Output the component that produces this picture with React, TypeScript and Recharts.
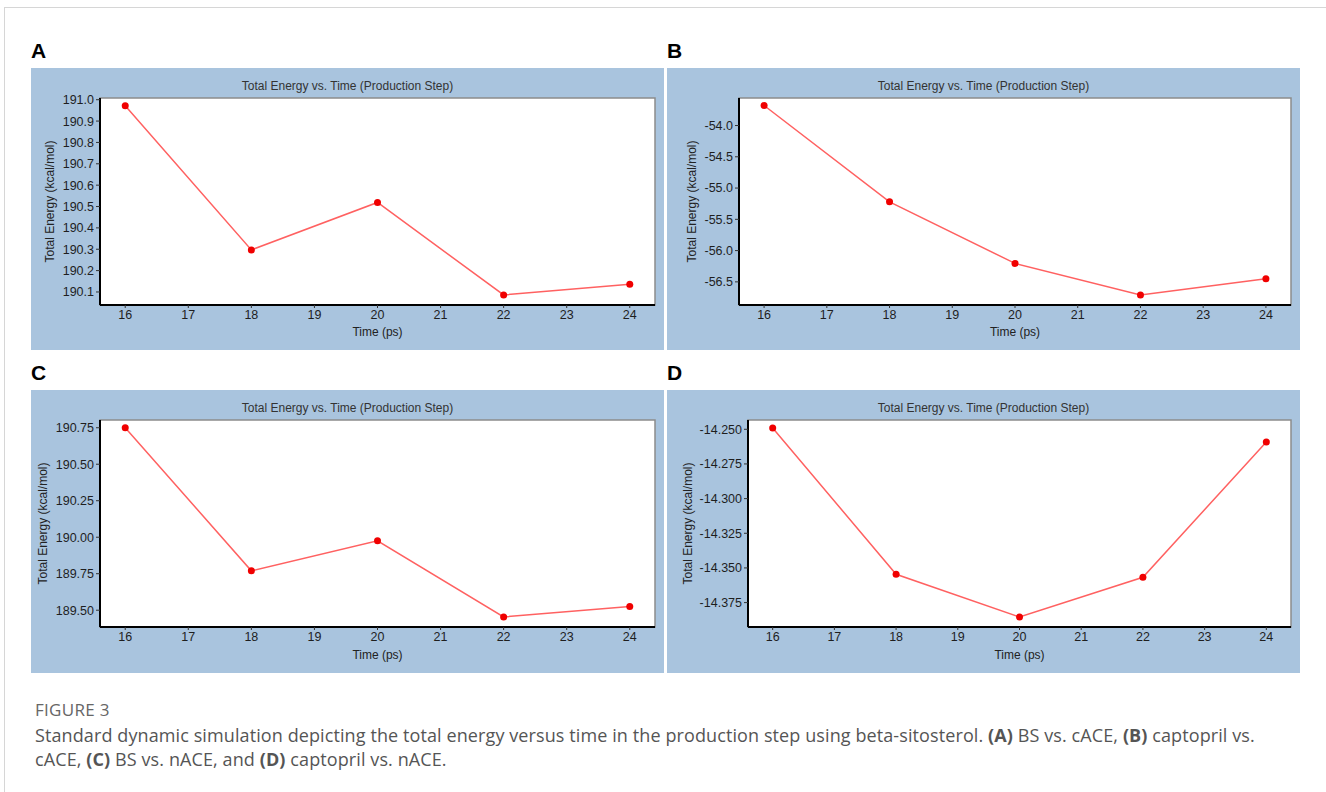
import React from 'react';
import { LineChart, Line, XAxis, YAxis, ReferenceArea } from 'recharts';

// time points (ps)
const times = [16, 18, 20, 22, 24];
const timeTicks = [16, 17, 18, 19, 20, 21, 22, 23, 24];
const timeDomain: [number, number] = [15.6, 24.4];

// total energy (kcal/mol) per panel
const energyA = [190.972, 190.297, 190.519, 190.086, 190.136];
const energyB = [-53.68, -55.22, -56.205, -56.71, -56.45];
const energyC = [190.75, 189.77, 189.975, 189.454, 189.525];
const energyD = [-14.249, -14.3546, -14.3854, -14.3567, -14.2592];

const ticksA = [190.1, 190.2, 190.3, 190.4, 190.5, 190.6, 190.7, 190.8, 190.9, 191.0];
const ticksB = [-56.5, -56.0, -55.5, -55.0, -54.5, -54.0];
const ticksC = [189.5, 189.75, 190.0, 190.25, 190.5, 190.75];
const ticksD = [-14.375, -14.35, -14.325, -14.3, -14.275, -14.25];

const domainA: [number, number] = [190.039, 191.008];
const domainB: [number, number] = [-56.87, -53.56];
const domainC: [number, number] = [189.385, 190.803];
const domainD: [number, number] = [-14.3926, -14.2433];

const chartTitle = 'Total Energy vs. Time (Production Step)';
const font = '"Liberation Sans", Arial, sans-serif';

interface PanelProps {
  letter: string;
  left: number;
  top: number;
  width: number;
  height: number;
  xAxisHeight: number;
  axisWidth: number;
  labelOffset: number;
  values: number[];
  ticks: number[];
  domain: [number, number];
  decimals: number;
}

const Panel: React.FC<PanelProps> = ({ letter, left, top, width, height, xAxisHeight, axisWidth, labelOffset, values, ticks, domain, decimals }) => {
  const data = times.map((t, i) => ({ t, e: values[i] }));
  return (
    <>
      <div style={{ position: 'absolute', left, top: top - 28, fontFamily: font, fontWeight: 700, fontSize: 21, lineHeight: '22px', color: '#000' }}>
        {letter}
      </div>
      <div style={{ position: 'absolute', left, top, width, height, background: '#a9c4de' }}>
        <div style={{ position: 'absolute', left: 0, top: 11, width, textAlign: 'center', fontFamily: font, fontSize: 12, lineHeight: '14px', color: '#333' }}>
          {chartTitle}
        </div>
        <LineChart width={width} height={height} data={data} margin={{ top: 30, right: 9, left: 0, bottom: 0 }} style={{ fontFamily: font }}>
          <ReferenceArea
            x1={timeDomain[0]}
            x2={timeDomain[1]}
            y1={domain[0]}
            y2={domain[1]}
            fill="#ffffff"
            fillOpacity={1}
            stroke="#8c8c8c"
            strokeWidth={1.5}
          />
          <XAxis
            dataKey="t"
            type="number"
            domain={timeDomain}
            ticks={timeTicks}
            allowDataOverflow
            height={xAxisHeight}
            axisLine={{ stroke: '#000', strokeWidth: 2 }}
            tickLine={{ stroke: '#333' }}
            tickSize={3}
            tickMargin={2}
            fontSize={12.5}
            tick={{ fontSize: 12.5, fill: '#1e1e1e' }}
            label={{ value: 'Time (ps)', position: 'insideBottom', offset: 14, style: { fontSize: 12, fill: '#222' } }}
          />
          <YAxis
            dataKey="e"
            type="number"
            domain={domain}
            ticks={ticks}
            allowDataOverflow
            width={axisWidth}
            axisLine={{ stroke: '#000', strokeWidth: 2 }}
            tickLine={{ stroke: '#333' }}
            tickSize={4}
            tickMargin={2}
            fontSize={12.5}
            tick={{ fontSize: 12.5, fill: '#1e1e1e' }}
            tickFormatter={(v: number) => v.toFixed(decimals)}
            label={{
              value: 'Total Energy (kcal/mol)',
              angle: -90,
              position: 'insideLeft',
              offset: labelOffset,
              style: { fontSize: 12, fill: '#222', textAnchor: 'middle' },
            }}
          />
          <Line
            type="linear"
            dataKey="e"
            stroke="#ff6161"
            strokeWidth={1.5}
            dot={{ r: 3.5, fill: '#f00000', stroke: 'none' }}
            activeDot={false}
            isAnimationActive={false}
          />
        </LineChart>
      </div>
    </>
  );
};

export default function App() {
  return (
    <div style={{ position: 'absolute', left: 0, top: 0, width: 1326, height: 792, background: '#fff', overflow: 'hidden' }}>
      <div style={{ position: 'absolute', left: 4, top: 7, width: 1330, height: 800, borderTop: '1px solid #d6d6d6', borderLeft: '1px solid #d6d6d6' }} />
      <Panel letter="A" left={31} top={68} width={633} height={282} xAxisHeight={45} axisWidth={69} labelOffset={19} values={energyA} ticks={ticksA} domain={domainA} decimals={1} />
      <Panel letter="B" left={667} top={68} width={633} height={282} xAxisHeight={45} axisWidth={72} labelOffset={25} values={energyB} ticks={ticksB} domain={domainB} decimals={1} />
      <Panel letter="C" left={31} top={390} width={633} height={283} xAxisHeight={46} axisWidth={69} labelOffset={12} values={energyC} ticks={ticksC} domain={domainC} decimals={2} />
      <Panel letter="D" left={667} top={390} width={633} height={283} xAxisHeight={46} axisWidth={81} labelOffset={21} values={energyD} ticks={ticksD} domain={domainD} decimals={3} />
      <div style={{ position: 'absolute', left: 35, top: 698, fontFamily: '"Open Sans", sans-serif', fontSize: 17, lineHeight: '24px', color: '#666', letterSpacing: 0.3 }}>
        FIGURE 3
      </div>
      <div style={{ position: 'absolute', left: 35, top: 723, fontFamily: '"Open Sans", sans-serif', fontSize: 18, lineHeight: '24px', color: '#555', whiteSpace: 'nowrap', letterSpacing: 0.1 }}>
        Standard dynamic simulation depicting the total energy versus time in the production step using beta-sitosterol. <b>(A)</b> BS vs. cACE, <b>(B)</b> captopril vs.
        <br />
        cACE, <b>(C)</b> BS vs. nACE, and <b>(D)</b> captopril vs. nACE.
      </div>
    </div>
  );
}
